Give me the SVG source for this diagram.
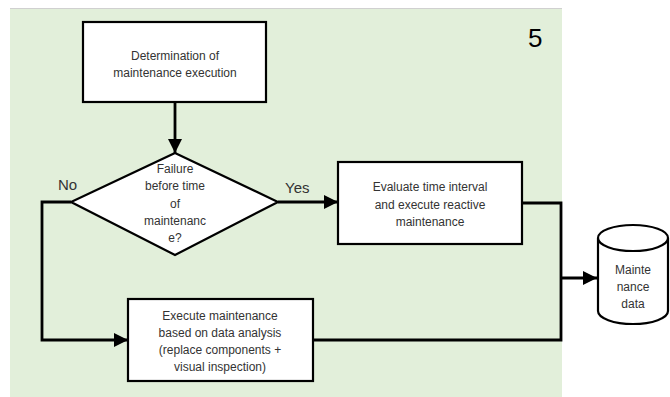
<svg xmlns="http://www.w3.org/2000/svg" width="670" height="397" viewBox="0 0 670 397">
<style>
.box{fill:#fff;stroke:#000;stroke-width:2.2}
.t{font-family:"Liberation Sans",Arial,sans-serif;font-size:12px;fill:#333;text-anchor:middle}
.lbl{font-family:"Liberation Sans",Arial,sans-serif;font-size:15px;fill:#333}
.c{fill:none;stroke:#000;stroke-width:2.8}
</style>
<defs>
<marker id="ah" viewBox="0 0 10 10" refX="10" refY="5" markerWidth="5" markerHeight="5" orient="auto" markerUnits="strokeWidth">
<path d="M0,0 L10,5 L0,10 Z" fill="#000"/>
</marker>
</defs>
<rect x="0" y="0" width="670" height="397" fill="#fff"/>
<rect x="10" y="9" width="552" height="388" fill="#e2efda"/>
<line x1="10" y1="8.5" x2="562" y2="8.5" stroke="#d0d0d0" stroke-width="1"/>
<text x="528" y="47" font-family="Liberation Sans,Arial,sans-serif" font-size="26" fill="#000">5</text>
<g id="connectors">
<line class="c" x1="175" y1="103" x2="175" y2="153" marker-end="url(#ah)"/>
<line class="c" x1="278" y1="202" x2="338" y2="202" marker-end="url(#ah)"/>
<polyline class="c" points="71,202 42,202 42,340 128,340" marker-end="url(#ah)"/>
<polyline class="c" points="522,203 561,203 561,340 313,340"/>
<line class="c" x1="561" y1="278" x2="597" y2="278" marker-end="url(#ah)"/>
<text class="lbl" x="58" y="190">No</text>
<text class="lbl" x="285" y="193">Yes</text>
</g>
<g id="n1">
<rect class="box" x="83" y="22" width="183" height="80"/>
<text class="t" x="175" y="60">Determination of</text>
<text class="t" x="175" y="77">maintenance execution</text>
</g>
<g id="n2">
<polygon class="box" points="175,153 278,202 175,255 71,202"/>
<text class="t" x="175" y="173">Failure</text>
<text class="t" x="175" y="190">before time</text>
<text class="t" x="175" y="208">of</text>
<text class="t" x="175" y="225">maintenanc</text>
<text class="t" x="175" y="242">e?</text>
</g>
<g id="n3">
<rect class="box" x="338" y="162" width="184" height="82"/>
<text class="t" x="430" y="191">Evaluate time interval</text>
<text class="t" x="430" y="209">and execute reactive</text>
<text class="t" x="430" y="226">maintenance</text>
</g>
<g id="n4">
<rect class="box" x="128" y="299" width="185" height="82"/>
<text class="t" x="220" y="320">Execute maintenance</text>
<text class="t" x="220" y="337">based on data analysis</text>
<text class="t" x="220" y="354">(replace components +</text>
<text class="t" x="220" y="371">visual inspection)</text>
</g>
<g id="n5">
<path class="box" d="M598,238 L598,311 A35,13 0 0 0 668,311 L668,238 A35,13 0 0 0 598,238 A35,13 0 0 0 668,238"/>
<text class="t" x="633" y="274">Mainte</text>
<text class="t" x="633" y="291">nance</text>
<text class="t" x="633" y="308">data</text>
</g>
</svg>
